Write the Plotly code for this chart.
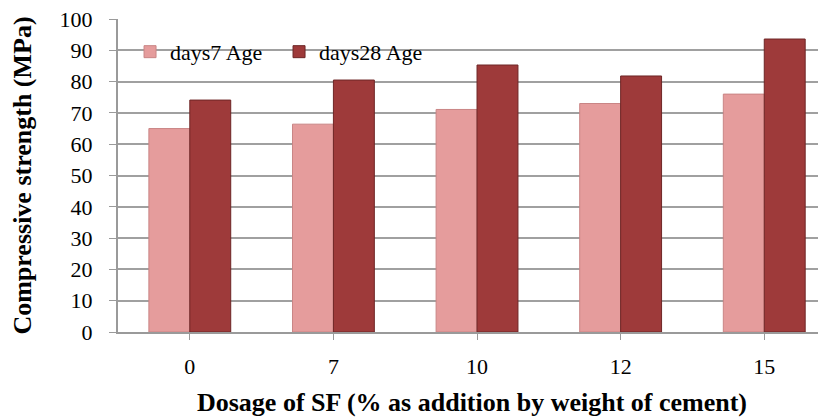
import plotly.graph_objects as go

categories = ["0", "7", "10", "12", "15"]
days7 = [65.0, 66.4, 71.1, 73.0, 76.0]
days28 = [74.1, 80.5, 85.3, 81.8, 93.6]
series_names = ["days7 Age", "days28 Age"]
y_ticks = [0, 10, 20, 30, 40, 50, 60, 70, 80, 90, 100]

serif = "Times New Roman, Liberation Serif, DejaVu Serif, serif"

fig = go.Figure()
fig.add_trace(go.Bar(
    x=categories, y=days7, name=series_names[0],
    marker=dict(color="#E59C9C", line=dict(color="#C98585", width=1)),
))
fig.add_trace(go.Bar(
    x=categories, y=days28, name=series_names[1],
    marker=dict(color="#9E3A3A", line=dict(color="#6E2626", width=1)),
))

fig.update_layout(
    width=826, height=419,
    margin=dict(l=110, r=8, t=11, b=95, autoexpand=False),
    paper_bgcolor="white", plot_bgcolor="white",
    barmode="group", bargap=0.43, bargroupgap=0.0,
    font=dict(family=serif, color="black", size=22),
    showlegend=True,
    legend=dict(
        orientation="h", x=0.017, y=0.895, xanchor="left", yanchor="middle",
        bgcolor="rgba(0,0,0,0)", font=dict(family=serif, size=22),
        itemwidth=30, entrywidth=104, entrywidthmode="pixels",
    ),
    xaxis=dict(
        type="category", range=[-0.5, 4.43], automargin=False,
        showgrid=False, showline=True, linecolor="#9a9a9a", linewidth=2,
        ticks="outside", ticklen=6, tickcolor="#9a9a9a",
        ticklabelstandoff=8,
        tickfont=dict(family=serif, size=22),
        title=dict(text="<b>Dosage of SF (% as addition by weight of cement)</b>",
                   font=dict(family=serif, size=26), standoff=14),
    ),
    yaxis=dict(
        range=[0, 100], tickvals=y_ticks, automargin=False,
        ticklabeloverflow="allow",
        showgrid=True, gridcolor="#a0a0a0", gridwidth=1.5,
        showline=True, linecolor="#9a9a9a", linewidth=2,
        ticks="outside", ticklen=7, tickcolor="#9a9a9a",
        ticklabelstandoff=12,
        tickfont=dict(family=serif, size=22),
        title=dict(text="<b>Compressive strength (MPa)</b>",
                   font=dict(family=serif, size=26), standoff=21),
        zeroline=False,
    ),
)

fig.write_html("out.html")
